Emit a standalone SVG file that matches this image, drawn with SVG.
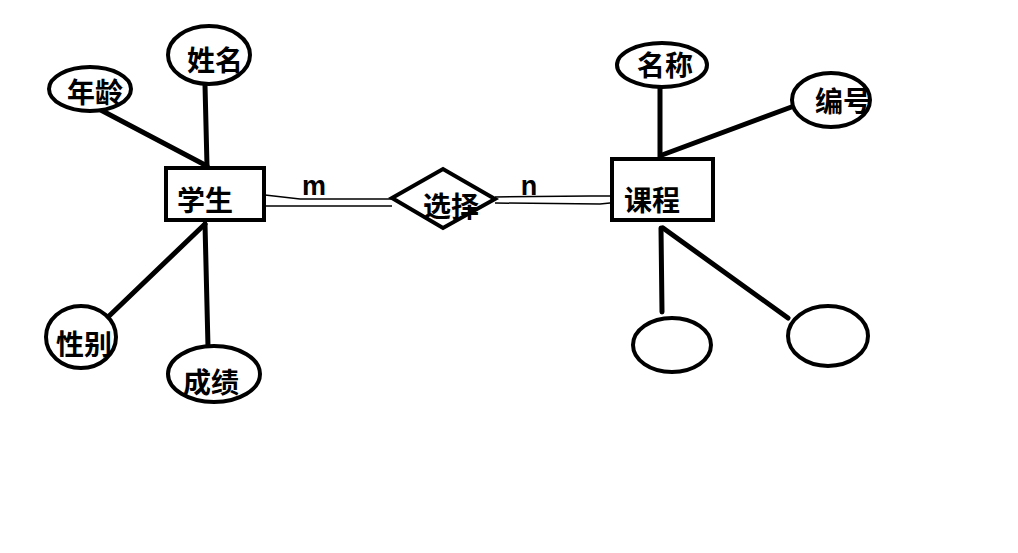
<svg xmlns="http://www.w3.org/2000/svg" width="1018" height="553" viewBox="0 0 1018 553">
<style>
.box{fill:#fff;stroke:#000;stroke-width:4}
.ell{fill:#fff;stroke:#000;stroke-width:4}
.lk{stroke:#000;stroke-width:5;fill:none;stroke-linecap:round}
.thin{stroke:#000;stroke-width:1.5;fill:none}
.t{font-family:"Noto Sans CJK SC","Noto Sans",sans-serif;font-weight:bold;font-size:28px;text-anchor:middle;fill:#000}
.c{font-family:"Liberation Sans",Arial,sans-serif;font-weight:bold;font-size:27px;text-anchor:middle;fill:#000}
</style>
<rect width="1018" height="553" fill="#fff"/>
<g id="connectors">
<line class="lk" x1="95" y1="107" x2="207" y2="166"/>
<line class="lk" x1="205" y1="85" x2="207" y2="166"/>
<line class="lk" x1="205" y1="224" x2="107" y2="318"/>
<line class="lk" x1="205" y1="224" x2="208" y2="347"/>
<line class="lk" x1="660" y1="88" x2="660" y2="157"/>
<line class="lk" x1="662" y1="155" x2="805" y2="102"/>
<line class="lk" x1="661" y1="228" x2="662" y2="312"/>
<line class="lk" x1="663" y1="228" x2="788" y2="318"/>
<polyline class="thin" points="265,195 300,199 392,199"/>
<line class="thin" x1="265" y1="206" x2="392" y2="206"/>
<polyline class="thin" points="495,197 590,196 613,196"/>
<polyline class="thin" points="495,203 600,204 620,202"/>
</g>
<g id="n-age"><ellipse class="ell" cx="90" cy="89" rx="41" ry="22"/><text class="t" x="95" y="103">年龄</text></g>
<g id="n-name"><ellipse class="ell" cx="209" cy="55" rx="41" ry="29"/><text class="t" x="215" y="71">姓名</text></g>
<g id="n-student"><rect class="box" x="166" y="168" width="98" height="52"/><text class="t" x="205" y="211">学生</text></g>
<g id="n-gender"><ellipse class="ell" cx="81" cy="337" rx="35" ry="31"/><text class="t" x="84" y="355">性别</text></g>
<g id="n-score"><ellipse class="ell" cx="214" cy="374" rx="46" ry="28"/><text class="t" x="211" y="393">成绩</text></g>
<g id="n-select"><polygon class="box" points="392,198 443,169 495,199 443,228"/><text class="t" x="451" y="217">选择</text></g>
<g id="n-m"><text class="c" x="314" y="195">m</text></g>
<g id="n-n"><text class="c" x="529" y="195">n</text></g>
<g id="n-course"><rect class="box" x="612" y="159" width="101" height="61"/><text class="t" x="652" y="211">课程</text></g>
<g id="n-cname"><ellipse class="ell" cx="662" cy="65" rx="45" ry="22"/><text class="t" x="665" y="76">名称</text></g>
<g id="n-cno"><ellipse class="ell" cx="831" cy="100" rx="39" ry="27"/><text class="t" x="843" y="112">编号</text></g>
<g id="n-e1"><ellipse class="ell" cx="672" cy="345" rx="39" ry="27"/></g>
<g id="n-e2"><ellipse class="ell" cx="828" cy="336" rx="40" ry="30"/></g>
</svg>
